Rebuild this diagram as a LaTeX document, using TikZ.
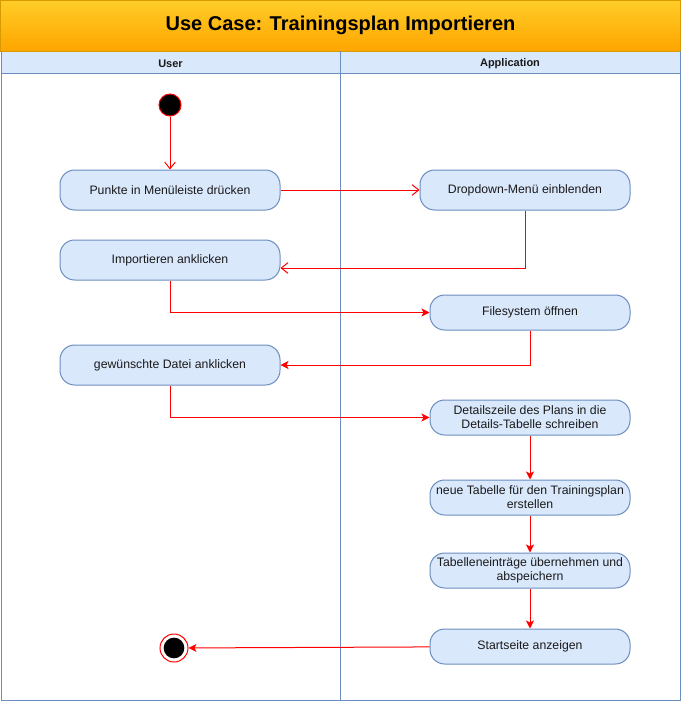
\documentclass[tikz,border=0pt]{standalone}
\usepackage{fontspec}
\setmainfont{Liberation Sans}
\usetikzlibrary{arrows.meta,positioning,calc}
\definecolor{nodefill}{HTML}{DAE8FC}
\definecolor{nodeline}{HTML}{6C8EBF}
\definecolor{ttop}{HTML}{FFCD28}
\definecolor{tbot}{HTML}{FFA500}
\definecolor{tline}{HTML}{D79B00}
\definecolor{txt}{HTML}{1A1A1A}
\definecolor{flow}{HTML}{FF0000}
\begin{document}
\begin{tikzpicture}[x=0.75pt,y=-0.75pt,
  actbox/.style={draw=nodeline,fill=nodefill,line width=0.75pt,rounded corners=11pt,
     minimum height=26.25pt,align=center,font=\fontsize{9.2}{10.6}\selectfont,text=txt,inner sep=1pt},
  bigbox/.style={actbox,minimum width=165pt,minimum height=30pt},
  appbox/.style={actbox,minimum width=150pt},
  openflow/.style={draw=flow,line width=0.75pt,-{Straight Barb[length=5pt,width=8pt,line width=0.75pt]}},
  fillflow/.style={draw=flow,line width=0.75pt,-{Stealth[length=6pt,width=6pt,inset=1.5pt]}},
  lane/.style={draw=nodeline,line width=0.75pt}]
\useasboundingbox (0,0) rectangle (681,703);
% title band
\shade[top color=ttop,bottom color=tbot] (0,0) rectangle (681,51);
\draw[tline,line width=0.75pt] (0.5,0.5) rectangle (680.5,51);
\node[font=\fontsize{15}{18}\selectfont\bfseries,text=black] (title) at (340.5,25.5) {Use Case: Trainingsplan Importieren};
% headers
\fill[nodefill] (1,51.5) rectangle (680,73);
\draw[lane] (1,51) -- (1,700) -- (680,700) -- (680,51);
\draw[lane] (1,73) -- (680,73);
\draw[lane] (340,51) -- (340,700);
\node[font=\fontsize{8.25}{10}\selectfont\bfseries,text=txt] (huser) at (170.5,64) {User};
\node[font=\fontsize{8.25}{10}\selectfont\bfseries,text=txt] (happ) at (510,64) {Application};
% nodes
\node[circle,fill=black,draw=flow,line width=0.75pt,minimum size=16.5pt,inner sep=0pt] (start) at (170,105) {};
\node[bigbox] (punkte) at (170,190) {Punkte in Menüleiste drücken};
\node[actbox,minimum width=157.5pt,minimum height=30pt] (drop) at (525,190) {Dropdown-Menü einblenden};
\node[bigbox] (imp) at (170,260) {Importieren anklicken};
\node[appbox] (fs) at (530,312.5) {Filesystem öffnen};
\node[bigbox] (datei) at (170,365) {gewünschte Datei anklicken};
\node[appbox] (detail) at (530,417.5) {Detailszeile des Plans in die\\Details-Tabelle schreiben};
\node[appbox] (neu) at (530,497.5) {neue Tabelle für den Trainingsplan\\erstellen};
\node[appbox] (eintr) at (530,570.5) {Tabelleneinträge übernehmen und\\abspeichern};
\node[appbox] (startseite) at (530,646.5) {Startseite anzeigen};
\node[circle,draw=flow,line width=0.75pt,fill=white,minimum size=21pt,inner sep=0pt] (end) at (174,648) {};
\node[circle,fill=black,minimum size=15.5pt,inner sep=0pt] (endin) at (174,648) {};
% connectors
\draw[openflow] (start) -- (punkte);
\draw[openflow] (punkte) -- (drop);
\draw[openflow] (drop.south) |- ($(imp.east)+(0,8)$);
\draw[fillflow] (imp.south) |- (fs.west);
\draw[fillflow] (fs.south) |- (datei.east);
\draw[fillflow] (datei.south) |- (detail.west);
\draw[fillflow] (detail) -- (neu);
\draw[fillflow] (neu) -- (eintr);
\draw[fillflow] (eintr) -- (startseite);
\draw[fillflow] (startseite) -- (end);
\end{tikzpicture}
\end{document}
